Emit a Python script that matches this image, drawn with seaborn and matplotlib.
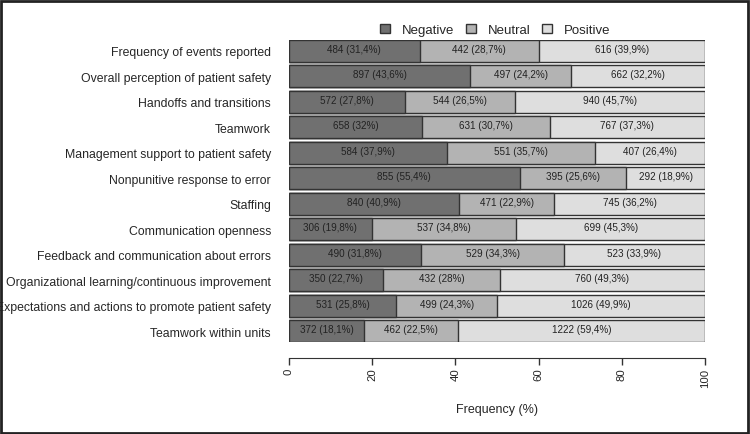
import pandas as pd
import matplotlib
matplotlib.use("Agg")
import matplotlib.pyplot as plt
from matplotlib.patches import Rectangle, Patch
import seaborn as sns

categories = [
    "Frequency of events reported",
    "Overall perception of patient safety",
    "Handoffs and transitions",
    "Teamwork",
    "Management support to patient safety",
    "Nonpunitive response to error",
    "Staffing",
    "Communication openness",
    "Feedback and communication about errors",
    "Organizational learning/continuous improvement",
    "Expectations and actions to promote patient safety",
    "Teamwork within units",
]
negative = [484, 897, 572, 658, 584, 855, 840, 306, 490, 350, 531, 372]
neutral = [442, 497, 544, 631, 551, 395, 471, 537, 529, 432, 499, 462]
positive = [616, 662, 940, 767, 407, 292, 745, 699, 523, 760, 1026, 1222]

series_names = ["Negative", "Neutral", "Positive"]
colors = ["#707070", "#b3b3b3", "#dedede"]


def fmt_label(n, p):
    s = f"{round(p, 1):.1f}"
    if s.endswith(".0"):
        s = s[:-2]
    return f"{n} ({s.replace('.', ',')}%)"


df = pd.DataFrame({"category": categories, "Negative": negative,
                   "Neutral": neutral, "Positive": positive})
total = df[series_names].sum(axis=1)
for s in series_names:
    df[s + "_pct"] = df[s] / total * 100
df["cum_neg"] = df["Negative_pct"]
df["cum_neu"] = df["cum_neg"] + df["Neutral_pct"]
df["cum_pos"] = df["cum_neu"] + df["Positive_pct"]

sns.set_style("white")
plt.rcParams["font.family"] = ["Liberation Sans", "DejaVu Sans"]

fig = plt.figure(figsize=(7.5, 4.35), dpi=100)
ax = fig.add_axes([289 / 750, 1 - 343 / 435, 416 / 750, 302 / 435])

bh = 0.85
# stacked bars drawn as overlapping cumulative layers
for col, c in zip(["cum_pos", "cum_neu", "cum_neg"], colors[::-1]):
    sns.barplot(data=df, x=col, y="category", orient="h", color=c,
                edgecolor="#333333", linewidth=1.0, width=bh, ax=ax,
                saturation=1)

for i, row in df.iterrows():
    left = 0.0
    for s in series_names:
        w = row[s + "_pct"]
        ax.text(left + w / 2, i - 0.08, fmt_label(row[s], w), ha="center",
                va="center", fontsize=7.1, color="#222222")
        left += w

ax.set_xlim(0, 100)
ax.set_ylim(len(categories) - 1 + bh / 2, -bh / 2)
ax.set_ylabel("")
ax.set_xlabel("Frequency (%)", fontsize=9, labelpad=12)
ax.set_xticks([0, 20, 40, 60, 80, 100])
ax.set_xticklabels(["0", "20", "40", "60", "80", "100"])
ax.tick_params(axis="y", length=0, pad=13, labelsize=8.8)
ax.tick_params(axis="x", length=5, width=1, color="#333333", pad=2,
               direction="out", bottom=True, labelsize=8.2, labelrotation=90)
for side in ["top", "right", "left"]:
    ax.spines[side].set_visible(False)
ax.spines["bottom"].set_position(("outward", 11.5))
ax.spines["bottom"].set_color("#333333")
ax.spines["bottom"].set_bounds(0, 100)

handles = [Patch(facecolor=c, edgecolor="#333333", label=n)
           for c, n in zip(colors, series_names)]
fig.legend(handles=handles, loc="center", bbox_to_anchor=(495 / 750, 1 - 31 / 435),
           ncol=3, frameon=False, fontsize=9.5, handlelength=0.75,
           handleheight=0.75, columnspacing=0.9, handletextpad=0.9)

fig.patches.append(Rectangle((0.0015, 0.002), 0.996, 0.994,
                             transform=fig.transFigure, fill=False,
                             edgecolor="#222222", linewidth=2))

fig.savefig("out.png", dpi=100)
